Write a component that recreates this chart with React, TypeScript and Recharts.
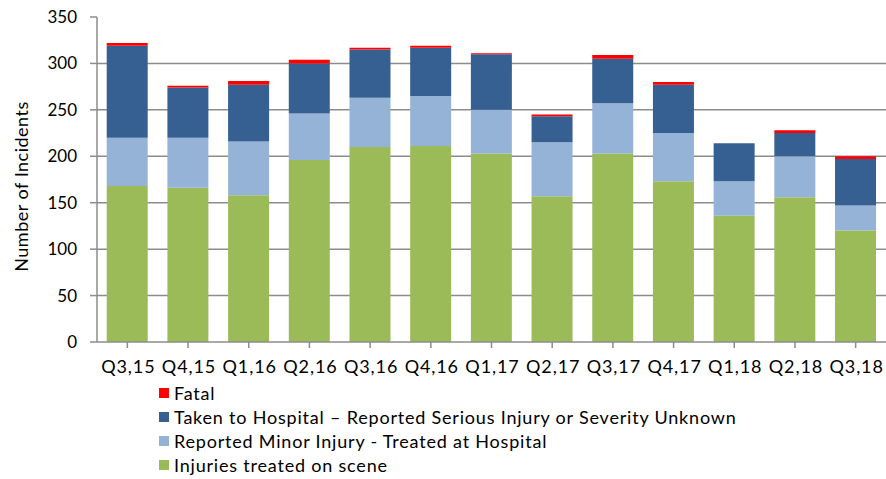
import React from 'react';
import { BarChart, Bar, XAxis, YAxis, CartesianGrid, Legend } from 'recharts';

const categories = ['Q3,15','Q4,15','Q1,16','Q2,16','Q3,16','Q4,16','Q1,17','Q2,17','Q3,17','Q4,17','Q1,18','Q2,18','Q3,18'];
const scene = [168,166,158,196,210,211,203,157,203,173,136,156,120];
const minor = [52,54,58,50,53,54,47,58,54,52,37,44,27];
const serious = [99,54,61,54,52,52,60,28,48,52,41,25,50];
const fatal = [3,2,4,4,2,2,1,2,4,3,0,3,3];
const yTicks = [0,50,100,150,200,250,300,350];
const gridValues = [50,100,150,200,250,300];

const seriesInfo = [
  { key: 'scene', name: 'Injuries treated on scene', color: '#9BBB59' },
  { key: 'minor', name: 'Reported Minor Injury - Treated at Hospital', color: '#95B3D7' },
  { key: 'serious', name: 'Taken to Hospital \u2013 Reported Serious Injury or Severity Unknown', color: '#366092' },
  { key: 'fatal', name: 'Fatal', color: '#FF0000' },
];

const data = categories.map((c, i) => ({
  cat: c, scene: scene[i], minor: minor[i], serious: serious[i], fatal: fatal[i],
}));

const FONT = 'Lato, sans-serif';

const LegendContent = () => (
  <div style={{ fontFamily: FONT, fontSize: 18, color: '#000', lineHeight: '24px', letterSpacing: 0.8 }}>
    {[...seriesInfo].reverse().map((s) => (
      <div key={s.key} style={{ display: 'flex', alignItems: 'center', height: 24 }}>
        <span style={{ display: 'inline-block', width: 10, height: 10, background: s.color, marginRight: 5 }} />
        <span>{s.name}</span>
      </div>
    ))}
  </div>
);

const YLabel = (props: any) => {
  const vb = props.viewBox || {};
  const cx = 21;
  const cy = vb.y + vb.height / 2 + 7;
  return (
    <text
      x={cx}
      y={cy}
      transform={`rotate(-90, ${cx}, ${cy})`}
      textAnchor="middle"
      dominantBaseline="central"
      style={{ fill: '#000', fontSize: 18, fontFamily: FONT, letterSpacing: 0.5 }}
    >
      Number of Incidents
    </text>
  );
};

const XTick = (props: any) => {
  const { x, y, payload } = props;
  return (
    <text
      x={x + 1}
      y={y + 10}
      textAnchor="middle"
      dominantBaseline="central"
      style={{ fill: '#000', fontSize: 18, fontFamily: FONT, letterSpacing: 0.9 }}
    >
      {payload.value}
    </text>
  );
};

export default function App() {
  return (
    <div style={{ position: 'absolute', left: 0, top: 0, width: 886, height: 479, background: '#fff' }}>
      <BarChart
        width={886}
        height={479}
        data={data}
        margin={{ top: 17, right: 0, left: 0, bottom: 107 }}
        barCategoryGap="16%"
      >
        <CartesianGrid vertical={false} horizontalValues={gridValues} stroke="#8c8c8c" strokeWidth={1.5} />
        <XAxis
          dataKey="cat"
          height={30}
          interval={0}
          axisLine={{ stroke: '#8c8c8c', strokeWidth: 1.5 }}
          tickLine={{ stroke: '#8c8c8c', strokeWidth: 1.5 }}
          tickSize={6}
          tickMargin={8}
          tick={<XTick />}
        />
        <YAxis
          width={97}
          domain={[0, 350]}
          ticks={yTicks}
          interval={0}
          axisLine={{ stroke: '#8c8c8c', strokeWidth: 1.5 }}
          tickLine={{ stroke: '#8c8c8c', strokeWidth: 1.5 }}
          tickSize={7}
          tickMargin={13}
          tick={{ fill: '#000', fontSize: 17, fontFamily: FONT }}
          label={<YLabel />}
        />
        {seriesInfo.map((s) => (
          <Bar key={s.key} dataKey={s.key} name={s.name} stackId="a" fill={s.color} isAnimationActive={false} />
        ))}
        <Legend
          layout="vertical"
          align="center"
          verticalAlign="middle"
          content={<LegendContent />}
          wrapperStyle={{ position: 'absolute', top: 381, left: 159, width: 720 }}
        />
      </BarChart>
    </div>
  );
}
